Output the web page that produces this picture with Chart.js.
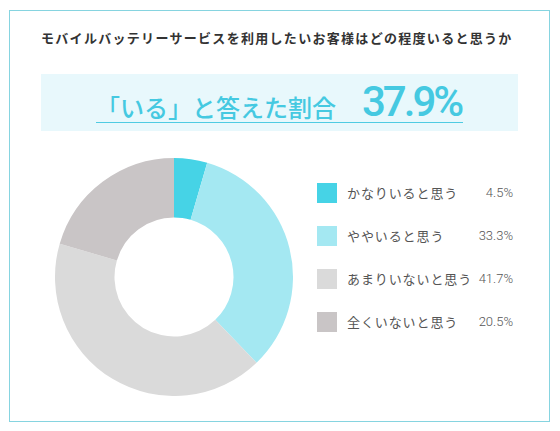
<!DOCTYPE html>
<html lang="ja">
<head>
<meta charset="utf-8">
<script src="https://cdn.jsdelivr.net/npm/chart.js@4.4.0/dist/chart.umd.min.js"></script>
<style>
  html, body { margin: 0; padding: 0; background: #fff; }
  body { width: 560px; height: 431px; position: relative; overflow: hidden;
         font-family: "Noto Sans CJK JP", "Noto Sans", sans-serif; }
  #frame { position: absolute; left: 9px; top: 10px; width: 539px; height: 410px;
           border: 1.5px solid #86d4e0; }
  #title { position: absolute; left: 41px; top: 29px; font-size: 13px; font-weight: 700;
           color: #333; letter-spacing: 1.3px; white-space: nowrap; line-height: 18px; }
  #banner { position: absolute; left: 41px; top: 74px; width: 477px; height: 57px; background: #e8f8fc; }
  #headline { position: absolute; left: 96px; top: 80px; width: 367px; height: 42px;
              border-bottom: 1.5px solid #4fcbe2; color: #45c9e1; white-space: nowrap;
              display: flex; align-items: baseline; }
  #headline .jp { font-size: 24px; font-weight: 500; line-height: 41px; position: relative; top: 2px; }
  #headline .num { font-family: Roboto, sans-serif; font-size: 42px; font-weight: 500;
                   line-height: 41px; margin-left: 26px; letter-spacing: -3px; position: relative; top: 1px; }
  #donutBox { position: absolute; left: 55px; top: 158px; width: 238px; height: 238px; }
  #legend { position: absolute; left: 317px; top: 183px; width: 200px; }
  .item { position: relative; height: 20px; margin-bottom: 23px; }
  .sw { position: absolute; left: 0; top: 0; width: 20px; height: 20px; }
  .lab { position: absolute; left: 30px; top: 0; line-height: 20px; font-size: 13px;
         color: #555; letter-spacing: 0.9px; white-space: nowrap; }
  .val { position: absolute; right: 4px; top: 0; line-height: 20px; font-size: 13px;
         font-family: Roboto, sans-serif; font-weight: 300; color: #555; }
</style>
</head>
<body>
<div id="frame"></div>
<div id="title"></div>
<div id="banner"></div>
<div id="headline"><span class="jp"></span><span class="num"></span></div>
<div id="donutBox"><canvas id="donut"></canvas></div>
<div id="legend"></div>

<script>
// データ
var titulo = "モバイルバッテリーサービスを利用したいお客様はどの程度いると思うか";
var titular = "「いる」と答えた割合";
var porcentajeTotal = "37.9%";

var categorias = ["かなりいると思う", "ややいると思う", "あまりいないと思う", "全くいないと思う"];
var valores = [4.5, 33.3, 41.7, 20.5];
var colores = ["#46d3e6", "#a4e8f2", "#dadada", "#c9c5c6"];

document.getElementById("title").textContent = titulo;
document.querySelector("#headline .jp").textContent = titular;
document.querySelector("#headline .num").textContent = porcentajeTotal;

// leyenda
var legend = document.getElementById("legend");
var html = "";
for (var i = 0; i < categorias.length; i++) {
  html += '<div class="item"><div class="sw" style="background:' + colores[i] + '"></div>' +
          '<span class="lab">' + categorias[i] + '</span>' +
          '<span class="val">' + valores[i].toFixed(1) + '%</span></div>';
}
legend.innerHTML = html;

var ctx = document.getElementById("donut").getContext("2d");
new Chart(ctx, {
  type: "doughnut",
  data: {
    labels: categorias,
    datasets: [{
      data: valores,
      backgroundColor: colores,
      borderWidth: 0,
    }],
  },
  options: {
    responsive: true,
    maintainAspectRatio: false,
    animation: false,
    cutout: "50%",
    layout: { padding: 0 },
    plugins: {
      legend: { display: false },
      tooltip: { enabled: false },
    },
  },
});
</script>
</body>
</html>
